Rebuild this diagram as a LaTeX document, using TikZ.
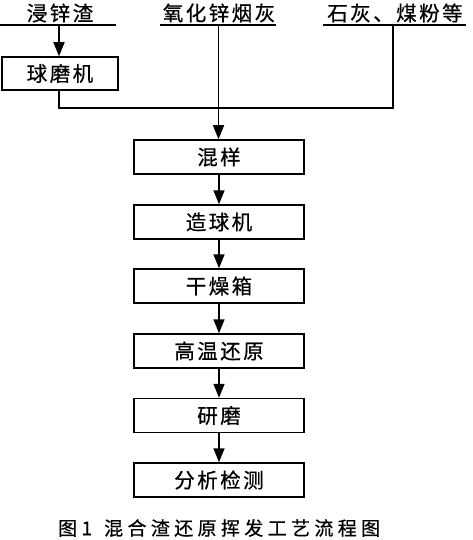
\documentclass[tikz,border=0pt]{standalone}
\usepackage{fontspec}
\setmainfont[LetterSpace=12,FakeBold=0.6]{Noto Sans CJK SC}
\newfontfamily\capfont[LetterSpace=23,FakeBold=0.6]{Noto Sans CJK SC}
\usetikzlibrary{arrows.meta}
\begin{document}
\begin{tikzpicture}[x=1pt,y=-1pt,
  lab/.style={font=\fontsize{20.5}{22}\selectfont, inner sep=0pt},
  box/.style={draw, line width=1.5pt, minimum height=34pt, inner sep=0pt, font=\fontsize{20.5}{22}\selectfont},
  mainbox/.style={box, minimum width=170pt},
  ln/.style={line width=1.5pt},
  arr/.style={ln, -{Triangle[length=14pt,width=11pt]}}]
\useasboundingbox (0,0) rectangle (472,540);
% top labels
\node[lab] (l1) at (60,13) {浸锌渣};
\node[lab] (l2) at (219,13) {氧化锌烟灰};
\node[lab] (l3) at (395,13) {石灰、煤粉等};
\draw[ln] (0,25) -- (116,25);
\draw[ln] (160,25) -- (276,25);
\draw[ln] (323,25) -- (466,25);
\coordinate (u1) at (59,25);
\coordinate (u2) at (218.5,25);
\coordinate (u3) at (393,25);
% ball mill
\node[box, minimum width=116pt, minimum height=33pt] (b0) at (60,73.5) {球磨机};
% main boxes
\node[mainbox] (m1) at (219,157) {混样};
\node[mainbox] (m2) at (219,222) {造球机};
\node[mainbox] (m3) at (219,286) {干燥箱};
\node[mainbox] (m4) at (219,351) {高温还原};
\node[mainbox] (m5) at (219,415.5) {研磨};
\node[mainbox] (m6) at (219,480) {分析检测};
% connectors
\coordinate (j1) at (59,108);
\coordinate (j3) at (393,108);
\draw[arr] (u1) -- (b0.north -| u1);
\draw[ln] (b0.south -| j1) -- (j1) -- (j3) -- (u3);
\draw[arr] (u2) -- (m1.north -| u2);
\draw[arr] (m1) -- (m2);
\draw[arr] (m2) -- (m3);
\draw[arr] (m3) -- (m4);
\draw[arr] (m4) -- (m5);
\draw[arr] (m5) -- (m6);
% caption
\node[font=\fontsize{19}{20}\capfont, inner sep=0pt, anchor=west] (cap) at (58,528) {图1\kern12pt 混合渣还原挥发工艺流程图};
\end{tikzpicture}
\end{document}
